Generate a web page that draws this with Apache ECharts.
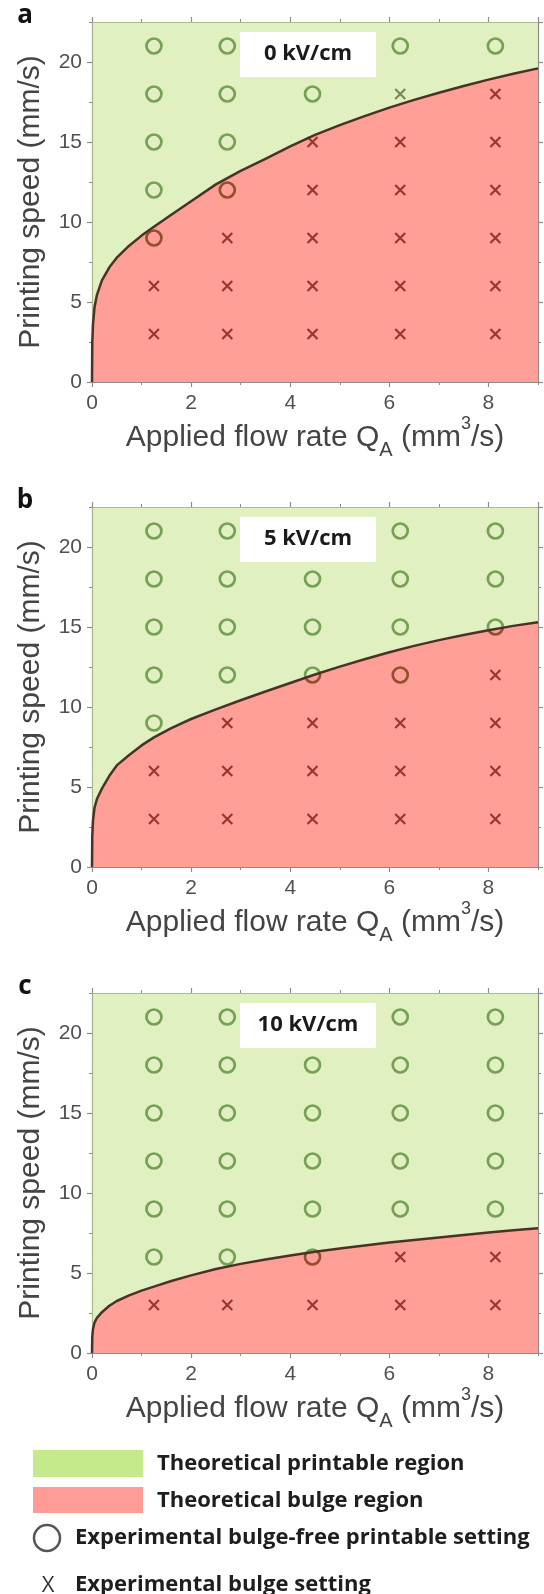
<!DOCTYPE html>
<html><head><meta charset="utf-8">
<script src="https://cdn.jsdelivr.net/npm/echarts@6/dist/echarts.min.js"></script>
<style>html,body{margin:0;padding:0;background:#fff}#chart{width:544px;height:1594px}</style>
</head><body><div id="chart"></div>
<script>
// ---------------- data ----------------
const panelLetters = ['a', 'b', 'c'];
const fieldLabels = ['0 kV/cm', '5 kV/cm', '10 kV/cm'];
const flowRates = [1.25, 2.73, 4.45, 6.22, 8.14];          // experimental Q_A (mm^3/s)
const speeds = [3, 6, 9, 12, 15, 18, 21];                   // printing speed (mm/s)
// one string per speed row (3..21), one char per flow rate: o = bulge-free printable, x = bulge
const outcome0kV  = ['xxxxx', 'xxxxx', 'oxxxx', 'ooxxx', 'ooxxx', 'oooxx', 'ooooo'];
const outcome5kV  = ['xxxxx', 'xxxxx', 'oxxxx', 'oooox', 'ooooo', 'ooooo', 'ooooo'];
const outcome10kV = ['xxxxx', 'oooxx', 'ooooo', 'ooooo', 'ooooo', 'ooooo', 'ooooo'];
// theoretical boundary between printable and bulge regions
const curveQ    = [0, 0.005, 0.02, 0.05, 0.1, 0.2, 0.35, 0.5, 0.75, 1.0, 1.25, 1.6, 2.0, 2.5, 3.0, 3.5, 4.0, 4.5, 5.0, 5.5, 6.0, 6.5, 7.0, 7.5, 8.0, 8.5, 9.0];
const curve0kV  = [0, 2.4, 3.6, 4.65, 5.45, 6.35, 7.17, 7.77, 8.52, 9.15, 9.7, 10.45, 11.3, 12.35, 13.2, 13.95, 14.72, 15.45, 16.05, 16.62, 17.15, 17.63, 18.08, 18.5, 18.9, 19.26, 19.6];
const curve5kV  = [0, 1.9, 2.9, 3.7, 4.25, 4.9, 5.7, 6.35, 7.0, 7.6, 8.1, 8.68, 9.25, 9.85, 10.42, 10.97, 11.5, 12.03, 12.52, 12.98, 13.42, 13.82, 14.18, 14.5, 14.8, 15.07, 15.3];
const curve10kV = [0, 1.0, 1.5, 1.9, 2.2, 2.55, 2.95, 3.25, 3.6, 3.9, 4.15, 4.5, 4.85, 5.25, 5.57, 5.85, 6.1, 6.33, 6.53, 6.72, 6.9, 7.06, 7.22, 7.38, 7.53, 7.67, 7.8];
const xMax = 9, yMax = 22.5;
const xMajor = 2, xMinor = 1, yMajor = 5, yMinor = 2.5;
const legendLabels = ['Theoretical printable region', 'Theoretical bulge region',
  'Experimental bulge-free printable setting', 'Experimental bulge setting'];

const outcomes = [outcome0kV, outcome5kV, outcome10kV];
const curves = [curve0kV, curve5kV, curve10kV];

// ---------------- layout / style ----------------
const gridTops = [22, 507, 993];
const GRID_H = 360, GRID_L = 92, GRID_R = 6;
const axisColor = '#8c8c8c';
const tickFont = 'Liberation Sans';
const boldFont = '"Open Sans"';
const greenFill = 'rgb(200,228,140)';
const redFill = 'rgb(255,80,68)';
const fillOpacity = 0.55;

function pointsOf(outcome, ch) {
  const pts = [];
  speeds.forEach((s, i) => flowRates.forEach((q, j) => { if (outcome[i][j] === ch) pts.push([q, s]); }));
  return pts;
}

const grids = [], xAxes = [], yAxes = [], series = [], graphic = [];
const xName = '{n|Applied flow rate Q}{sub|A}{n| (mm}{sup|3}{n|/s)}';
const richName = {
  n: {fontSize: 30, fontFamily: tickFont, color: '#444', lineHeight: 46},
  sub: {fontSize: 20, fontFamily: tickFont, color: '#444', lineHeight: 20, verticalAlign: 'bottom'},
  sup: {fontSize: 18, fontFamily: tickFont, color: '#444', lineHeight: 44, verticalAlign: 'top'}
};

panelLetters.forEach((letter, g) => {
  const top = gridTops[g];
  grids.push({left: GRID_L, right: GRID_R, top: top, height: GRID_H, containLabel: false, outerBoundsMode: 'none'});
  const line = {show: true, onZero: false, lineStyle: {color: axisColor, width: 1.2}};
  const noLine = {show: false, onZero: false};
  const major = {show: true, inside: false, length: 5, lineStyle: {color: axisColor, width: 1.2}};
  const minor = {show: true, inside: false, length: 3, lineStyle: {color: axisColor, width: 1}};
  const xb = {gridIndex: g, type: 'value', min: 0, max: xMax, splitLine: {show: false}};
  const yb = {gridIndex: g, type: 'value', min: 0, max: yMax, splitLine: {show: false}};
  xAxes.push(
    Object.assign({}, xb, {position: 'bottom', interval: xMajor, axisLine: line, axisTick: major,
      axisLabel: {show: true, margin: 11, color: '#505050', fontSize: 21, fontFamily: tickFont, showMaxLabel: false},
      name: xName, nameLocation: 'middle', nameGap: 30, nameTextStyle: {rich: richName}}),
    Object.assign({}, xb, {position: 'bottom', interval: xMinor, axisLine: noLine, axisTick: minor, axisLabel: {show: false}}),
    Object.assign({}, xb, {position: 'top', interval: xMajor, axisLine: line, axisTick: major, axisLabel: {show: false}}),
    Object.assign({}, xb, {position: 'top', interval: xMinor, axisLine: noLine, axisTick: minor, axisLabel: {show: false}})
  );
  yAxes.push(
    Object.assign({}, yb, {position: 'left', interval: yMajor, axisLine: line, axisTick: major,
      axisLabel: {show: true, margin: 10, color: '#505050', fontSize: 21, fontFamily: tickFont, showMaxLabel: false},
      name: 'Printing speed (mm/s)', nameLocation: 'middle', nameGap: 46,
      nameTextStyle: {fontSize: 30, fontFamily: tickFont, color: '#444'}}),
    Object.assign({}, yb, {position: 'left', interval: yMinor, axisLine: noLine, axisTick: minor, axisLabel: {show: false}}),
    Object.assign({}, yb, {position: 'right', interval: yMajor, axisLine: line, axisTick: major, axisLabel: {show: false}}),
    Object.assign({}, yb, {position: 'right', interval: yMinor, axisLine: noLine, axisTick: minor, axisLabel: {show: false}})
  );
  const xi = g * 4, yi = g * 4;
  const curveData = curveQ.map((q, k) => [q, curves[g][k]]);
  series.push(
    {type: 'scatter', xAxisIndex: xi, yAxisIndex: yi, z: 1, silent: true,
      data: pointsOf(outcomes[g], 'o'), symbol: 'circle', symbolSize: 15,
      itemStyle: {color: 'rgba(0,0,0,0)', borderColor: 'rgb(15,80,15)', borderWidth: 2.7, opacity: 1}},
    {type: 'scatter', xAxisIndex: xi, yAxisIndex: yi, z: 1, silent: true,
      data: pointsOf(outcomes[g], 'x'), symbol: 'path://M0,0L10,10M10,0L0,10', symbolSize: 10,
      itemStyle: {color: 'rgba(0,0,0,0)', borderColor: 'rgb(35,20,20)', borderWidth: 2.2, opacity: 1}},
    {type: 'line', xAxisIndex: xi, yAxisIndex: yi, z: 3, silent: true, data: curveData,
      showSymbol: false, smooth: false, lineStyle: {width: 0, opacity: 0},
      areaStyle: {color: greenFill, opacity: fillOpacity, origin: 'end'}},
    {type: 'line', xAxisIndex: xi, yAxisIndex: yi, z: 3, silent: true, data: curveData,
      showSymbol: false, smooth: false, lineStyle: {width: 0, opacity: 0},
      areaStyle: {color: redFill, opacity: fillOpacity, origin: 'start'}},
    {type: 'line', xAxisIndex: xi, yAxisIndex: yi, z: 4, silent: true, data: curveData,
      showSymbol: false, smooth: false, lineStyle: {width: 2.5, color: '#4a3226', join: 'round'}}
  );
  // panel letter
  graphic.push({type: 'text', x: 25, y: top - 6, z: 100,
    style: {text: letter, font: 'bold 26px ' + boldFont, fill: '#111', align: 'center', verticalAlign: 'middle'}});
  // field strength box
  graphic.push({type: 'rect', shape: {x: 240, y: top + 10, width: 136, height: 45}, z: 100, style: {fill: '#fff'}});
  graphic.push({type: 'text', x: 308, y: top + 32, z: 101,
    style: {text: fieldLabels[g], font: 'bold 22px ' + boldFont, fill: '#1a1a1a', align: 'center', verticalAlign: 'middle'}});
});

// legend
graphic.push(
  {type: 'rect', shape: {x: 33, y: 1450, width: 110, height: 27}, style: {fill: 'rgb(196,234,140)'}},
  {type: 'rect', shape: {x: 33, y: 1487, width: 110, height: 26}, style: {fill: 'rgb(255,156,152)'}},
  {type: 'text', x: 157, y: 1464, style: {text: legendLabels[0], font: 'bold 22px ' + boldFont, fill: '#1e1e1e', align: 'left', verticalAlign: 'middle'}},
  {type: 'text', x: 157, y: 1500.5, style: {text: legendLabels[1], font: 'bold 22px ' + boldFont, fill: '#1e1e1e', align: 'left', verticalAlign: 'middle'}},
  {type: 'circle', shape: {cx: 47, cy: 1538, r: 13}, style: {fill: 'none', stroke: '#555', lineWidth: 2.5}},
  {type: 'text', x: 75, y: 1537.5, style: {text: legendLabels[2], font: 'bold 22px ' + boldFont, fill: '#1e1e1e', align: 'left', verticalAlign: 'middle'}},
  {type: 'text', x: 48, y: 1586, style: {text: 'X', font: '22px ' + boldFont, fill: '#333', align: 'center', verticalAlign: 'middle'}},
  {type: 'text', x: 75, y: 1585, style: {text: legendLabels[3], font: 'bold 22px ' + boldFont, fill: '#1e1e1e', align: 'left', verticalAlign: 'middle'}}
);

const chart = echarts.init(document.getElementById('chart'), null, {renderer: 'canvas', width: 544, height: 1594});
chart.setOption({
  animation: false,
  backgroundColor: '#fff',
  grid: grids, xAxis: xAxes, yAxis: yAxes, series: series, graphic: graphic
});
</script></body></html>
